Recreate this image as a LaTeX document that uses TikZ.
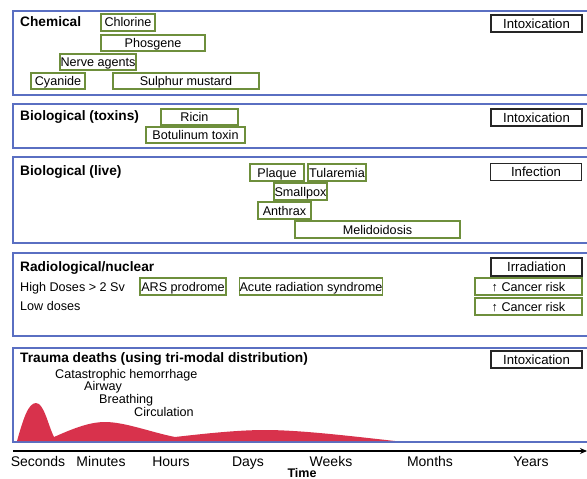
\documentclass[tikz,border=0pt]{standalone}
\usepackage{fontspec}
\setmainfont{Liberation Sans}
\usetikzlibrary{arrows.meta}
\definecolor{pblue}{HTML}{5A6FC2}
\definecolor{bgreen}{HTML}{6E8F3C}
\definecolor{tred}{HTML}{D8324C}
\tikzset{
  panel/.style={draw=pblue, line width=1.4pt, fill=white},
  gbox/.style={draw=bgreen, line width=1.6pt, inner sep=0pt, text height=9pt, text depth=0pt, font=\fontsize{12.6}{14}\selectfont},
  kbox/.style={draw=black!85, line width=1.8pt, inner sep=0pt, text height=9.4pt, text depth=0pt, minimum width=91, minimum height=17, font=\fontsize{13.2}{15}\selectfont},
  ttl/.style={anchor=west, inner sep=0pt, text height=9.8pt, text depth=0pt, font=\bfseries\fontsize{13.7}{15}\selectfont},
  txt/.style={anchor=west, inner sep=0pt, text height=9pt, text depth=0pt, font=\fontsize{12.6}{14}\selectfont},
  tick/.style={inner sep=0pt, text height=10pt, text depth=0pt, font=\fontsize{14}{16}\selectfont},
}
\begin{document}
\begin{tikzpicture}[x=1pt,y=-1pt]
\useasboundingbox (0,0) rectangle (587,479);
\fill[white] (0,0) rectangle (587,479);
% panels
\draw[panel] (13,11) rectangle (592,95);
\draw[panel] (13,104) rectangle (592,148);
\draw[panel] (13,157) rectangle (592,243);
\draw[panel] (13,253) rectangle (592,336);
\draw[panel] (13,348) rectangle (592,442);
% chemical
\node[ttl] (chem) at (20,22) {Chemical};
\node[gbox, minimum width=54, minimum height=17] (chl) at (128,22.5) {Chlorine};
\node[gbox, minimum width=104, minimum height=16] (pho) at (153,43) {Phosgene};
\node[gbox, minimum width=76, minimum height=16] (nerve) at (98,62) {Nerve agents};
\node[gbox, minimum width=54, minimum height=16] (cya) at (58,81) {Cyanide};
\node[gbox, minimum width=146, minimum height=16] (sul) at (186,81) {Sulphur mustard};
\node[kbox] (intox1) at (536.5,23.5) {Intoxication};
% biological toxins
\node[ttl] (biot) at (20,116) {Biological (toxins)};
\node[gbox, minimum width=77, minimum height=16] (ric) at (199.5,117) {\hspace*{-10pt}Ricin};
\node[gbox, minimum width=99, minimum height=16] (bot) at (195.5,135) {Botulinum toxin};
\node[kbox] (intox2) at (536.5,117.5) {Intoxication};
% biological live
\node[ttl] (biol) at (20,171) {Biological (live)};
\node[gbox, minimum width=54, minimum height=17] (pla) at (277,172.5) {Plaque};
\node[gbox, minimum width=58, minimum height=17] (tul) at (337,172.5) {Tularemia};
\node[gbox, minimum width=53, minimum height=17] (sma) at (300.5,191.5) {Smallpox};
\node[gbox, minimum width=53, minimum height=17] (ant) at (284.5,210.5) {Anthrax};
\node[gbox, minimum width=165, minimum height=17] (mel) at (377.5,229.5) {Melidoidosis};
\node[kbox] (inf) at (536,172) {Infection};
% radiological
\node[ttl] (rad) at (20,267) {Radiological/nuclear};
\node[txt] (high) at (20,287) {High Doses > 2 Sv};
\node[txt] (low) at (20,306) {Low doses};
\node[gbox, minimum width=86, minimum height=17] (ars) at (183,286.5) {ARS prodrome};
\node[gbox, minimum width=142, minimum height=17] (acu) at (311,286.5) {Acute radiation syndrome};
\node[kbox, minimum height=18] (irr) at (536.5,267) {Irradiation};
\node[gbox, minimum width=107, minimum height=17] (can1) at (528.5,286.5) {↑ Cancer risk};
\node[gbox, minimum width=107, minimum height=17] (can2) at (528.5,306.5) {↑ Cancer risk};
% trauma
\node[ttl] (tra) at (20,358) {Trauma deaths (using tri-modal distribution)};
\node[kbox] (intox3) at (536.5,359.5) {Intoxication};
\node[txt] (cat) at (55,374) {Catastrophic hemorrhage};
\node[txt] (air) at (84,386) {Airway};
\node[txt] (bre) at (99,399) {Breathing};
\node[txt] (cir) at (134,412) {Circulation};
\fill[tred] (17,441) .. controls (23,420) and (28,403) .. (36,403)
  .. controls (44,403) and (48,425) .. (54,437)
  .. controls (70,430) and (88,422) .. (105,422)
  .. controls (125,422) and (150,432) .. (175,437)
  .. controls (210,433) and (240,430) .. (265,430)
  .. controls (300,430) and (350,436) .. (395,441) -- cycle;
% axis
\coordinate (a0) at (13,451);
\coordinate (a1) at (587,451);
\draw[line width=1.6pt, -{Stealth[length=7pt,width=6pt]}] (a0) -- (a1);
\node[tick] (sec) at (38,461.5) {Seconds};
\node[tick] (min) at (101,461.5) {Minutes};
\node[tick] (hou) at (171,461.5) {Hours};
\node[tick] (day) at (248,461.5) {Days};
\node[tick] (wee) at (331,461.5) {Weeks};
\node[tick] (mon) at (430,461.5) {Months};
\node[tick] (yea) at (531,461.5) {Years};
\node[tick, text height=9pt, font=\bfseries\fontsize{12.5}{14}\selectfont] (time) at (302,472.5) {Time};
\end{tikzpicture}
\end{document}
